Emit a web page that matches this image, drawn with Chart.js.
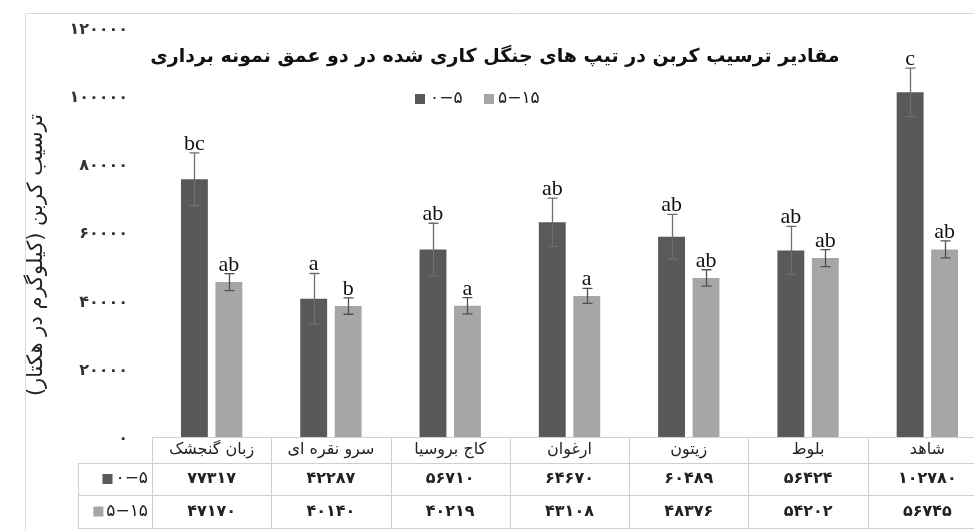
<!DOCTYPE html>
<html>
<head>
<meta charset="utf-8">
<script src="https://cdn.jsdelivr.net/npm/chart.js@4.4.0/dist/chart.umd.min.js"></script>
<style>
  html, body { margin: 0; padding: 0; background: #fff; overflow: hidden; }
  #wrap { position: relative; width: 974px; height: 531px; overflow: hidden; }
  canvas { position: absolute; left: 0; top: 0; }
</style>
</head>
<body>
<div id="wrap"><canvas id="myChart" width="1000" height="531"></canvas></div>
<script>
// داده ها
const categories = ['زبان گنجشک', 'سرو نقره ای', 'کاج بروسیا', 'ارغوان', 'زیتون', 'بلوط', 'شاهد'];
const seriesLabels = ['۰−۵', '۵−۱۵'];
const depth0_5 = [77317, 42287, 56710, 64670, 60489, 56424, 102780];
const depth5_15 = [47170, 40140, 40219, 43108, 48376, 54202, 56745];
const err0_5 = [7700, 7400, 7700, 7100, 6500, 7100, 7100];
const err5_15 = [2500, 2400, 2400, 2200, 2400, 2500, 2500];
const letters0_5 = ['bc', 'a', 'ab', 'ab', 'ab', 'ab', 'c'];
const letters5_15 = ['ab', 'b', 'a', 'a', 'ab', 'ab', 'ab'];
const yMax = 120000;
const yStep = 20000;

const titleText = 'مقادیر ترسیب کربن در تیپ های جنگل کاری شده در دو عمق نمونه برداری';
const yTitle = 'ترسیب کربن (کیلوگرم در هکتار)';

const colors = ['#595959', '#a6a6a6'];
const errColors = ['#6e6e6e', '#4f4f4f'];
const faFont = '"DejaVu Sans", "Noto Sans", sans-serif';

// تبدیل ارقام به فارسی
const toFa = n => String(n).replace(/\d/g, d => '۰۱۲۳۴۵۶۷۸۹'[d]);

// خطوط خطا، حروف، عنوان، راهنما و جدول داده
const extras = {
    id: 'extras',
    beforeDraw(chart) {
        const ctx = chart.ctx;
        ctx.save();
        ctx.strokeStyle = '#d9d9d9';
        ctx.lineWidth = 1;
        ctx.beginPath();
        ctx.moveTo(25.5, 531);
        ctx.lineTo(25.5, 13.5);
        ctx.lineTo(1000, 13.5);
        ctx.stroke();
        ctx.restore();
    },
    afterDatasetsDraw(chart) {
        const ctx = chart.ctx;
        const y = chart.scales.y;
        const errs = [err0_5, err5_15];
        const letters = [letters0_5, letters5_15];
        ctx.save();
        chart.data.datasets.forEach((ds, i) => {
            chart.getDatasetMeta(i).data.forEach((bar, j) => {
                const v = ds.data[j];
                const yt = y.getPixelForValue(v + errs[i][j]);
                const yb = y.getPixelForValue(v - errs[i][j]);
                const x = Math.round(bar.x) + 0.5;
                ctx.strokeStyle = errColors[i];
                ctx.lineWidth = 1.3;
                ctx.beginPath();
                ctx.moveTo(x, yt); ctx.lineTo(x, yb);
                ctx.moveTo(x - 5, yt); ctx.lineTo(x + 5, yt);
                ctx.moveTo(x - 5, yb); ctx.lineTo(x + 5, yb);
                ctx.stroke();
                ctx.fillStyle = '#111';
                ctx.font = '22px "Liberation Serif", "DejaVu Serif", serif';
                ctx.textAlign = 'center';
                ctx.textBaseline = 'alphabetic';
                ctx.fillText(letters[i][j], bar.x, yt - 3);
            });
        });
        ctx.restore();
    },
    afterDraw(chart) {
        const ctx = chart.ctx;
        const xs = chart.scales.x;
        const area = chart.chartArea;
        const half = (xs.getPixelForValue(1) - xs.getPixelForValue(0)) / 2;
        const top = 437, r1 = 463, r2 = 495, bottom = 528;
        ctx.save();

        // عنوان
        ctx.direction = 'rtl';
        ctx.fillStyle = '#111';
        ctx.font = 'bold 19px ' + faFont;
        ctx.textAlign = 'center';
        ctx.textBaseline = 'middle';
        ctx.fillText(titleText, 495, 57);

        // راهنما
        ctx.direction = 'ltr';
        ctx.font = '17px ' + faFont;
        ctx.textAlign = 'left';
        ctx.fillStyle = colors[0];
        ctx.fillRect(415, 94, 10, 10);
        ctx.fillStyle = '#222';
        ctx.fillText(seriesLabels[0], 430, 99);
        ctx.fillStyle = colors[1];
        ctx.fillRect(484, 94, 10, 10);
        ctx.fillStyle = '#222';
        ctx.fillText(seriesLabels[1], 498, 99);

        // عنوان محور
        ctx.save();
        ctx.translate(37, 255);
        ctx.rotate(-Math.PI / 2);
        ctx.direction = 'rtl';
        ctx.textAlign = 'center';
        ctx.textBaseline = 'middle';
        ctx.font = '21px ' + faFont;
        ctx.fillStyle = '#222';
        ctx.fillText(yTitle, 0, 0);
        ctx.restore();

        // جدول
        ctx.fillStyle = '#fff';
        ctx.fillRect(area.left, top, 1000 - area.left, 531 - top);
        ctx.fillRect(78, r1, area.left - 78, 531 - r1);
        ctx.strokeStyle = '#d0d0d0';
        ctx.lineWidth = 1;
        ctx.beginPath();
        ctx.moveTo(area.left, top + 0.5); ctx.lineTo(1000, top + 0.5);
        [r1, r2, bottom].forEach(yy => { ctx.moveTo(78, yy + 0.5); ctx.lineTo(1000, yy + 0.5); });
        ctx.moveTo(78.5, r1); ctx.lineTo(78.5, bottom);
        for (let j = 0; j <= categories.length; j++) {
            const xx = Math.round(xs.getPixelForValue(j) - half) + 0.5;
            ctx.moveTo(xx, top); ctx.lineTo(xx, bottom);
        }
        ctx.stroke();

        ctx.fillStyle = '#222';
        ctx.textAlign = 'center';
        ctx.textBaseline = 'middle';
        categories.forEach((c, j) => {
            const cx = xs.getPixelForValue(j);
            ctx.direction = 'rtl';
            ctx.font = '16px ' + faFont;
            ctx.fillText(c, cx, (top + r1) / 2);
            ctx.direction = 'ltr';
            ctx.font = 'bold 16px ' + faFont;
            ctx.fillText(toFa(depth0_5[j]), cx, (r1 + r2) / 2);
            ctx.fillText(toFa(depth5_15[j]), cx, (r2 + bottom) / 2);
        });

        ctx.textAlign = 'right';
        ctx.font = '17px ' + faFont;
        [seriesLabels[0], seriesLabels[1]].forEach((lab, i) => {
            const cy = i === 0 ? (r1 + r2) / 2 : (r2 + bottom) / 2;
            const w = ctx.measureText(lab).width;
            ctx.fillStyle = colors[i];
            ctx.fillRect(148 - w - 13, cy - 5, 10, 10);
            ctx.fillStyle = '#222';
            ctx.fillText(lab, 148, cy);
        });
        ctx.restore();
    }
};

const ctx = document.getElementById('myChart').getContext('2d');
new Chart(ctx, {
    type: 'bar',
    data: {
        labels: categories,
        datasets: [
            { label: seriesLabels[0], data: depth0_5, backgroundColor: colors[0] },
            { label: seriesLabels[1], data: depth5_15, backgroundColor: colors[1] }
        ]
    },
    options: {
        responsive: false,
        animation: false,
        devicePixelRatio: 1,
        datasets: { bar: { categoryPercentage: 0.578, barPercentage: 0.78 } },
        layout: { padding: { top: 33, bottom: 88, left: 0, right: 13 } },
        plugins: { legend: { display: false }, title: { display: false }, tooltip: { enabled: false } },
        scales: {
            x: { display: false },
            y: {
                min: 0,
                max: yMax,
                afterFit: scale => { scale.width = 152; },
                grid: { display: false, drawTicks: false },
                border: { display: false },
                ticks: {
                    stepSize: yStep,
                    padding: 24,
                    labelOffset: -4,
                    color: '#333',
                    font: { family: faFont, size: 16, weight: 'bold' },
                    callback: v => toFa(v)
                }
            }
        }
    },
    plugins: [extras]
});
</script>
</body>
</html>
